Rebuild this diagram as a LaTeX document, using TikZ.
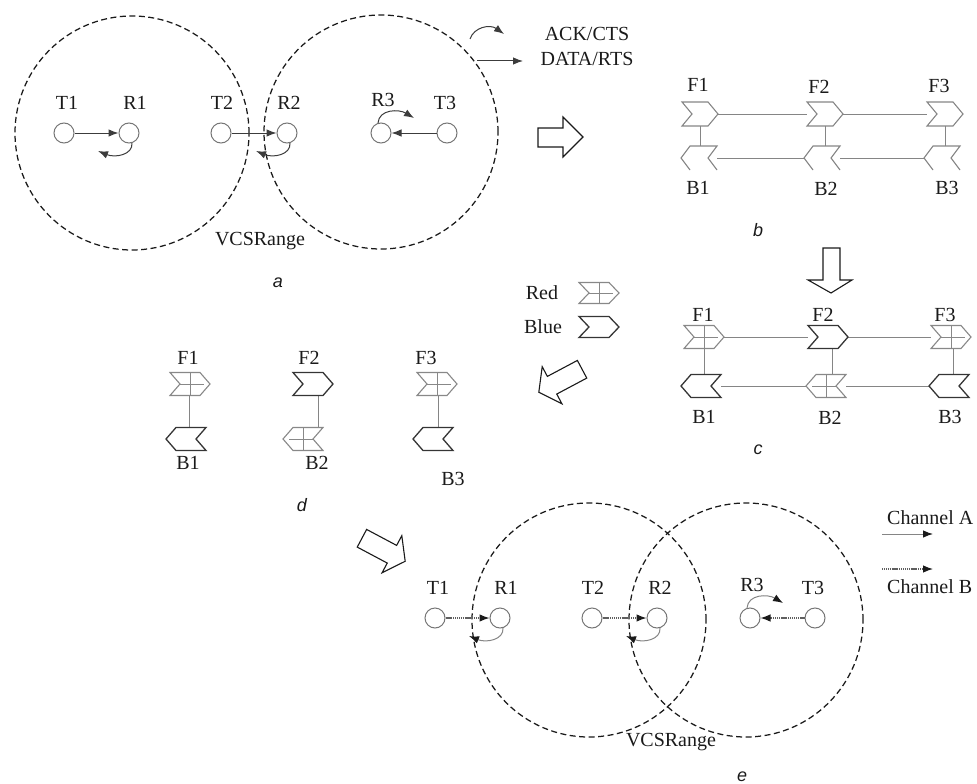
\documentclass[tikz,border=0pt]{standalone}
\usepackage{fontspec}
\setmainfont{Liberation Serif}
\newfontfamily\subfont{Liberation Sans}
\usetikzlibrary{calc,arrows.meta}
\definecolor{ink}{HTML}{1A1A1A}
\definecolor{stn}{HTML}{767676}
\definecolor{wire}{HTML}{858585}
\definecolor{redchev}{HTML}{888888}
\definecolor{bluechev}{HTML}{353535}
\newcommand\chevF[2]{\draw[#2] (#1.north west) -- ($(#1.north east)+(-10,0)$) -- (#1.east) -- ($(#1.south east)+(-10,0)$) -- (#1.south west) -- ($(#1.west)+(10,0)$) -- cycle;}
\newcommand\chevB[2]{\draw[#2] (#1.west) -- ($(#1.north west)+(10,0)$) -- (#1.north east) -- ($(#1.east)+(-10,0)$) -- (#1.south east) -- ($(#1.south west)+(10,0)$) -- cycle;}
\newcommand\chevBopen[2]{\draw[#2] ($(#1.south west)+(9,0)$) -- (#1.west) -- ($(#1.north west)+(9,0)$) -- (#1.north east) -- ($(#1.east)+(-9,0)$) -- (#1.south east);}
\newcommand\crossF[2]{\draw[#2] (#1.north) -- (#1.south) ($(#1.west)+(10,0)$) -- ($(#1.east)+(-6,0)$);}
\newcommand\crossB[2]{\draw[#2] (#1.north) -- (#1.south) ($(#1.west)+(6,0)$) -- ($(#1.east)+(-10,0)$);}
\begin{document}
\begin{tikzpicture}[x=1pt,y=-1pt,
  lbl/.style={font=\fontsize{20}{24}\selectfont, text=ink, inner sep=0pt},
  sublbl/.style={font=\subfont\itshape\fontsize{18}{21}\selectfont, text=ink, inner sep=0pt},
  station/.style={circle, draw=stn, line width=1pt, minimum size=20pt, inner sep=0pt},
  vcs/.style={draw=ink, line width=1.25pt, dash pattern=on 6pt off 3.5pt},
  sig/.style={draw=ink!85, line width=1pt, -{Latex[length=10pt,width=7.5pt]}},
  chA/.style={draw=wire, line width=1pt, -{Latex[length=10pt,width=7.5pt,color=ink]}},
  chB/.style={draw=ink!70, line width=1.1pt, dash pattern=on 1.2pt off 0.7pt, -{Latex[length=10pt,width=7.5pt,color=ink]}},
  chevb/.style={inner sep=0pt, outer sep=0pt, minimum width=36pt, minimum height=24pt},
  chevc/.style={inner sep=0pt, outer sep=0pt, minimum width=40pt, minimum height=23pt},
  chevl/.style={inner sep=0pt, outer sep=0pt, minimum width=40pt, minimum height=21pt},
  wireline/.style={draw=wire, line width=1pt},
  bchev/.style={draw=wire, line width=1.1pt, line join=miter},
  redline/.style={draw=redchev, line width=1.1pt, line join=miter},
  blueline/.style={draw=bluechev, line width=1.3pt, line join=miter},
  crossline/.style={draw=redchev, line width=0.8pt},
  blockarr/.style={draw=ink, line width=1.1pt, fill=white, line join=miter}]
\useasboundingbox (0,0) rectangle (977,784);

% ---------------- panel a ----------------
\draw[vcs] (132,133) circle[radius=117pt];
\draw[vcs] (381,132) circle[radius=117pt];
\node[station] (aT1) at (64,133) {};
\node[station] (aR1) at (129,133) {};
\node[station] (aT2) at (221,133) {};
\node[station] (aR2) at (287,133) {};
\node[station] (aR3) at (381,133) {};
\node[station] (aT3) at (447,133) {};
\node[lbl] (laT1) at (67,103) {T1};
\node[lbl] (laR1) at (135,103) {R1};
\node[lbl] (laT2) at (222,103) {T2};
\node[lbl] (laR2) at (289,103) {R2};
\node[lbl] (laR3) at (383,100) {R3};
\node[lbl] (laT3) at (445,103) {T3};
\draw[sig] (aT1) -- (aR1);
\draw[sig] (aT2) -- (aR2);
\draw[sig] (aT3) -- (aR3);
\draw[sig] ($(aR1)+(3,10)$) .. controls ($(aR1)+(4,22)$) and ($(aR1)+(-14,25)$) .. ($(aR1)+(-31,18)$);
\draw[sig] ($(aR2)+(3,10)$) .. controls ($(aR2)+(4,22)$) and ($(aR2)+(-14,25)$) .. ($(aR2)+(-31,18)$);
\draw[sig] ($(aR3)+(-3,-10)$) .. controls ($(aR3)+(-2,-24)$) and ($(aR3)+(18,-24)$) .. ($(aR3)+(33,-15)$);
\node[lbl] (vcsa) at (260,241) {VCSRange};
\node[sublbl] (suba) at (278,283) {a};

% legend of a
\coordinate (ackA) at (470,39);
\coordinate (ackB) at (504,34);
\draw[sig] (ackA) .. controls (474,27) and (490,24) .. (ackB);
\coordinate (datA) at (477,61);
\coordinate (datB) at (523,61);
\draw[sig] (datA) -- (datB);
\node[lbl] (ack) at (587,34) {ACK/CTS};
\node[lbl] (dat) at (587,59) {DATA/RTS};

% block arrow a -> b
\draw[blockarr] (538,128) -- (563,128) -- (563,117) -- (583,137) -- (563,157) -- (563,147) -- (538,147) -- cycle;

% ---------------- panel b ----------------
\node[chevb] (bF1) at (700,114) {};
\node[chevb] (bF2) at (825,114) {};
\node[chevb] (bF3) at (945,114) {};
\node[chevb] (bB1) at (699,158) {};
\node[chevb] (bB2) at (822,158) {};
\node[chevb] (bB3) at (942,158) {};
\draw[wireline] (bF1.east) -- (bF2.west);
\draw[wireline] (bF2.east) -- (bF3.west);
\draw[wireline] (bB1.east) -- (bB2.west);
\draw[wireline] (bB2.east) -- (bB3.west);
\draw[wireline] (bF1.south) -- (bF1.south |- bB1.north);
\draw[wireline] (bF2.south) -- (bF2.south |- bB2.north);
\draw[wireline] (bF3.south) -- (bF3.south |- bB3.north);
\chevF{bF1}{bchev}
\chevF{bF2}{bchev}
\chevF{bF3}{bchev}
\chevBopen{bB1}{bchev}
\chevBopen{bB2}{bchev}
\chevBopen{bB3}{bchev}
\node[lbl] (lbF1) at (698,85) {F1};
\node[lbl] (lbF2) at (819,87) {F2};
\node[lbl] (lbF3) at (939,86) {F3};
\node[lbl] (lbB1) at (698,188) {B1};
\node[lbl] (lbB2) at (826,189) {B2};
\node[lbl] (lbB3) at (947,188) {B3};
\node[sublbl] (subb) at (758,230) {b};

% block arrow b -> c
\draw[blockarr] (823,248) -- (840,248) -- (840,280) -- (852,280) -- (831,293) -- (808,280) -- (823,280) -- cycle;

% ---------------- legend Red / Blue ----------------
\node[lbl] (redtxt) at (542,293) {Red};
\node[lbl] (bluetxt) at (543,327) {Blue};
\node[chevl] (legR) at (599,293) {};
\node[chevl] (legB) at (599,327) {};
\chevF{legR}{redline}
\crossF{legR}{crossline}
\chevF{legB}{blueline}

% ---------------- panel c ----------------
\node[chevc] (cF1) at (704,337) {};
\node[chevc] (cF2) at (828,337) {};
\node[chevc] (cF3) at (951,337) {};
\node[chevc] (cB1) at (701,386) {};
\node[chevc] (cB2) at (826,386) {};
\node[chevc] (cB3) at (949,386) {};
\draw[wireline] (cF1.east) -- (cF2.west);
\draw[wireline] (cF2.east) -- (cF3.west);
\draw[wireline] (cB1.east) -- (cB2.west);
\draw[wireline] (cB2.east) -- (cB3.west);
\coordinate (cv1) at ($(cF1.south)+(0,0)$);
\coordinate (cv2) at ($(cF2.south)+(4,0)$);
\coordinate (cv3) at ($(cF3.south)+(2,0)$);
\draw[wireline] (cv1) -- (cv1 |- cB1.north);
\draw[wireline] (cv2) -- (cv2 |- cB2.north);
\draw[wireline] (cv3) -- (cv3 |- cB3.north);
\chevF{cF1}{redline}
\crossF{cF1}{crossline}
\chevF{cF2}{blueline}
\chevF{cF3}{redline}
\crossF{cF3}{crossline}
\chevB{cB1}{blueline}
\chevB{cB2}{redline}
\crossB{cB2}{crossline}
\chevB{cB3}{blueline}
\node[lbl] (lcF1) at (703,315) {F1};
\node[lbl] (lcF2) at (823,315) {F2};
\node[lbl] (lcF3) at (945,315) {F3};
\node[lbl] (lcB1) at (704,417) {B1};
\node[lbl] (lcB2) at (830,418) {B2};
\node[lbl] (lcB3) at (950,417) {B3};
\node[sublbl] (subc) at (758,450) {c};

% block arrow c -> d
\begin{scope}[shift={(560,381)}, rotate=208]
\draw[blockarr] (-25,-10) -- (9,-10) -- (9,-21) -- (24,0) -- (9,21) -- (9,10) -- (-25,10) -- cycle;
\end{scope}

% ---------------- panel d ----------------
\node[chevc] (dF1) at (190,384) {};
\node[chevc] (dF2) at (313,384) {};
\node[chevc] (dF3) at (437,384) {};
\node[chevc] (dB1) at (186,439) {};
\node[chevc] (dB2) at (303,439) {};
\node[chevc] (dB3) at (433,439) {};
\coordinate (dv1) at ($(dF1.south)+(-1,0)$);
\coordinate (dv2) at ($(dF2.south)+(5,0)$);
\coordinate (dv3) at ($(dF3.south)+(1,0)$);
\draw[wireline] (dv1) -- (dv1 |- dB1.north);
\draw[wireline] (dv2) -- (dv2 |- dB2.north);
\draw[wireline] (dv3) -- (dv3 |- dB3.north);
\chevF{dF1}{redline}
\crossF{dF1}{crossline}
\chevF{dF2}{blueline}
\chevF{dF3}{redline}
\crossF{dF3}{crossline}
\chevB{dB1}{blueline}
\chevB{dB2}{redline}
\crossB{dB2}{crossline}
\chevB{dB3}{blueline}
\node[lbl] (ldF1) at (188,358) {F1};
\node[lbl] (ldF2) at (309,358) {F2};
\node[lbl] (ldF3) at (426,358) {F3};
\node[lbl] (ldB1) at (188,463) {B1};
\node[lbl] (ldB2) at (317,463) {B2};
\node[lbl] (ldB3) at (453,479) {B3};
\node[sublbl] (subd) at (302,505) {d};

% block arrow d -> e
\begin{scope}[shift={(384,550)}, rotate=-28]
\draw[blockarr] (-25,-10) -- (9,-10) -- (9,-21) -- (24,0) -- (9,21) -- (9,10) -- (-25,10) -- cycle;
\end{scope}

% ---------------- panel e ----------------
\draw[vcs] (589,620) circle[radius=117pt];
\draw[vcs] (746,620) circle[radius=117pt];
\node[station] (eT1) at (435,618) {};
\node[station] (eR1) at (500,618) {};
\node[station] (eT2) at (592,618) {};
\node[station] (eR2) at (657,618) {};
\node[station] (eR3) at (750,618) {};
\node[station] (eT3) at (815,618) {};
\node[lbl] (leT1) at (438,588) {T1};
\node[lbl] (leR1) at (506,588) {R1};
\node[lbl] (leT2) at (593,588) {T2};
\node[lbl] (leR2) at (660,588) {R2};
\node[lbl] (leR3) at (752,585) {R3};
\node[lbl] (leT3) at (813,588) {T3};
\draw[chB] (eT1) -- (eR1);
\draw[chB] (eT2) -- (eR2);
\draw[chB] (eT3) -- (eR3);
\draw[chA] ($(eR1)+(3,10)$) .. controls ($(eR1)+(4,22)$) and ($(eR1)+(-14,25)$) .. ($(eR1)+(-31,18)$);
\draw[chA] ($(eR2)+(3,10)$) .. controls ($(eR2)+(4,22)$) and ($(eR2)+(-14,25)$) .. ($(eR2)+(-31,18)$);
\draw[chA] ($(eR3)+(-3,-10)$) .. controls ($(eR3)+(-2,-24)$) and ($(eR3)+(18,-24)$) .. ($(eR3)+(33,-15)$);
\node[lbl] (vcse) at (671,742) {VCSRange};
\node[sublbl] (sube) at (742,777) {e};

% legend of e
\coordinate (chAa) at (882,534);
\coordinate (chAb) at (933,534);
\draw[chA] (chAa) -- (chAb);
\coordinate (chBa) at (882,569);
\coordinate (chBb) at (933,569);
\draw[chB] (chBa) -- (chBb);
\node[lbl, anchor=west] (chAtxt) at (887,518) {Channel A};
\node[lbl, anchor=west] (chBtxt) at (887,587) {Channel B};
\end{tikzpicture}
\end{document}
